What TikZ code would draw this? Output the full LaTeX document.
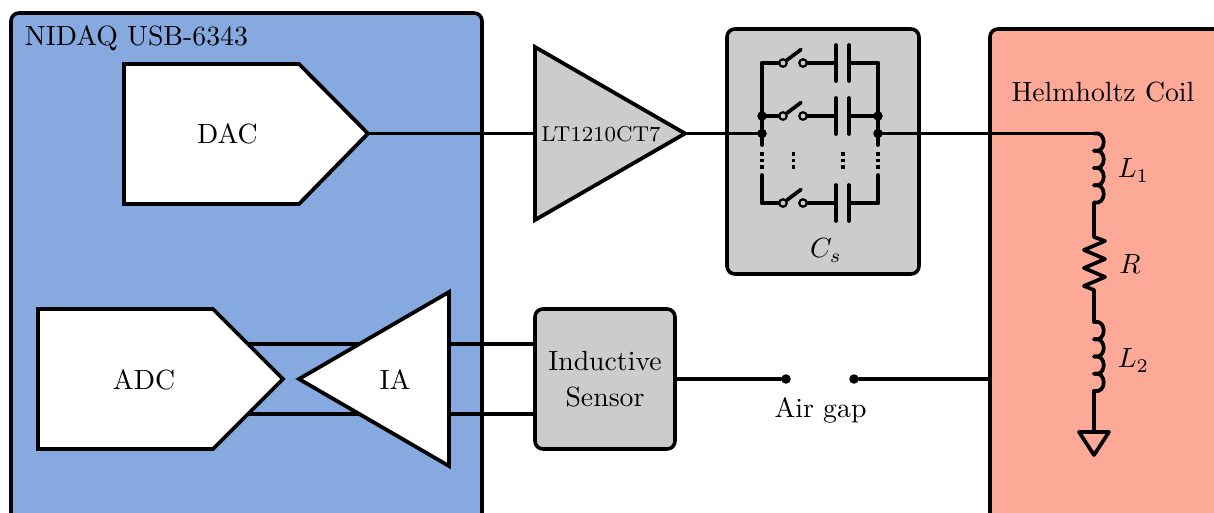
\documentclass[tikz,border=0pt]{standalone}
\usetikzlibrary{calc}
\definecolor{daqblue}{HTML}{86A9DF}
\definecolor{coilred}{HTML}{FCA998}
\definecolor{boxgray}{HTML}{CCCCCC}
\def\pxu{0.36pt}
\tikzset{
  x=0.36pt,y=-0.36pt,
  wire/.style={line width=3.7*\pxu,line cap=round,line join=round},
  solid shape/.style={line width=3.8*\pxu,draw=black,line join=miter},
  panel/.style={draw=black,line width=3.6*\pxu,rounded corners=8*\pxu,inner sep=0pt,outer sep=0pt},
  label text/.style={inner sep=0pt,outer sep=0pt},
  junction/.style={circle,fill=black,inner sep=0pt,minimum size=9.5*\pxu},
  terminal/.style={circle,draw=black,fill=boxgray,line width=2.2*\pxu,inner sep=0pt,minimum size=7.5*\pxu},
}
\newcommand{\capbranch}[2]{% name, y
  \coordinate (#1l) at (762,#2);
  \coordinate (#1r) at (878,#2);
  \node[terminal] (#1a) at (783,#2) {};
  \node[terminal] (#1b) at (803,#2) {};
  \coordinate (#1p) at (836,#2);
  \coordinate (#1q) at (849,#2);
  \draw[wire] (#1l) -- (#1a);
  \draw[wire] (#1a) -- ($(#1a)+(18,-13.5)$);
  \draw[wire] (#1b) -- (#1p);
  \draw[wire] ($(#1p)+(0,-18)$) -- ($(#1p)+(0,18)$);
  \draw[wire] ($(#1q)+(0,-18)$) -- ($(#1q)+(0,18)$);
  \draw[wire] (#1q) -- (#1r);
}
\newcommand{\vdotcol}[1]{%
  \foreach \yy in {154,160.5,167}{\fill (#1-1.7,\yy-1.7) rectangle (#1+1.7,\yy+1.7);}
}
\newcommand{\coilpath}[1]{% top y
  \foreach \k in {0,1,2,3}{%
    \draw[wire] (1094,{#1+\k*17.25}) .. controls (1107,{#1+\k*17.25-3}) and (1107,{#1+\k*17.25+20.25}) .. (1094,{#1+\k*17.25+17.25});
  }
}
\begin{document}
\begin{tikzpicture}
\useasboundingbox (0,0) rectangle (1214,513);
\clip (0,0) rectangle (1214,513);

% panels
\node[panel,fill=daqblue,minimum width=471*\pxu,minimum height=600*\pxu] (daq) at (246.5,313) {};
\node[panel,fill=coilred,minimum width=400*\pxu,minimum height=600*\pxu] (coil) at (1190,329) {};
\node[panel,fill=boxgray,minimum width=192*\pxu,minimum height=245*\pxu] (cs) at (823,151.5) {};
\node[label text,anchor=west] (daqlabel) at (25,38.5) {NIDAQ USB-6343};
\node[label text] (coillabel) at (1103,92) {Helmholtz Coil};
\node[label text] (cslabel) at (826,250.5) {$C_s$};

% wires behind ADC and IA
\coordinate (adcu) at (240,344);
\coordinate (adcl) at (240,414);
\coordinate (iau) at (449,344);
\coordinate (ial) at (449,414);
\coordinate (dacout) at (368,133.5);
\coordinate (ampin) at (535,133.5);
\coordinate (ampout) at (685,133.5);
\coordinate (csin) at (762,133.5);
\coordinate (csout) at (878,133.5);
\coordinate (coiltop) at (1094,133.5);

\node[panel,fill=boxgray,minimum width=140*\pxu,minimum height=140*\pxu,align=center] (sensor) at (605,379) {Inductive\\[1pt]Sensor};

\draw[wire] (adcu) -- (iau);
\draw[wire] (adcl) -- (ial);
\draw[wire] (iau) -- (sensor.west |- iau);
\draw[wire] (ial) -- (sensor.west |- ial);

% converters and amplifiers
\draw[solid shape,fill=white] (124,64) -- (299,64) -- (dacout) -- (299,204) -- (124,204) -- cycle;
\node[label text] (dac) at (227.5,134) {DAC};
\draw[solid shape,fill=white] (38,309) -- (213,309) -- (283,379) -- (213,449) -- (38,449) -- cycle;
\node[label text] (adc) at (144,379.5) {ADC};
\draw[solid shape,fill=white] (299,379) -- (449,292) -- (449,466) -- cycle;
\node[label text] (ia) at (395,379.5) {IA};
\draw[solid shape,fill=boxgray] (535,47) -- (ampout) -- (535,220) -- cycle;
\node[label text] (amp) at (601,134.5) {\fontsize{7.75}{9}\selectfont LT1210CT7};

% main signal wires
\draw[wire] (dacout) -- (ampin);
\draw[wire] (ampout) -- (csin);
\draw[wire] (csout) -- (coiltop);

% capacitor bank
\capbranch{ba}{63}
\capbranch{bb}{116}
\capbranch{bc}{203}
\draw[wire] (bal) -- (762,145);
\draw[wire] (bar) -- (878,145);
\draw[wire] (762,175) -- (bcl);
\draw[wire] (878,175) -- (bcr);
\node[junction] at (bbl) {};
\node[junction] at (bbr) {};
\node[junction] at (csin) {};
\node[junction] at (csout) {};
\vdotcol{762}
\vdotcol{793.5}
\vdotcol{843}
\vdotcol{878}

% coil column
\coilpath{133.5}
\draw[wire] (1094,202.5) -- (1094,237) -- (1105,241) -- (1084,250) -- (1105,259) -- (1084,268) -- (1105,277) -- (1084,286) -- (1094,290) -- (1094,322);
\coilpath{322}
\coordinate (gndtop) at (1094,432);
\draw[wire] (1094,391) -- (gndtop);
\draw[wire] (1079,432) -- (1109,432) -- (1094,455) -- cycle;
\node[label text] (l1) at (1133.5,170.5) {$L_1$};
\node[label text] (r) at (1130,264.5) {$R$};
\node[label text] (l2) at (1133.5,360.5) {$L_2$};

% air gap
\node[junction] (gapa) at (786,379) {};
\node[junction] (gapb) at (854,379) {};
\draw[wire] (sensor.east) -- (gapa);
\draw[wire] (gapb) -- (coil.west |- gapb);
\node[label text] (gaplabel) at (820.5,410) {Air gap};
\end{tikzpicture}
\end{document}
